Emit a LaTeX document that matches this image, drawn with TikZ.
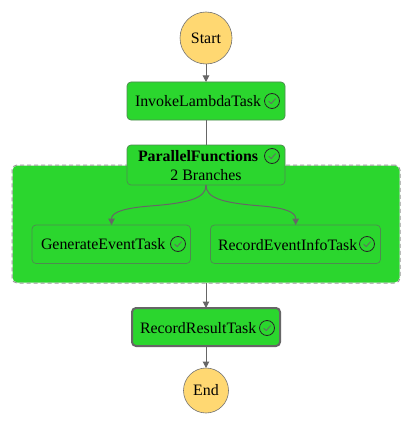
\documentclass[tikz,border=0pt]{standalone}
\usepackage{fontspec}
\setmainfont{Liberation Serif}
\usetikzlibrary{arrows.meta}
\definecolor{okgreen}{HTML}{2BD62E}
\definecolor{startfill}{HTML}{FFD872}
\definecolor{edgegray}{HTML}{666666}
\definecolor{boxedge}{HTML}{4E8A50}
\tikzset{
  x=1pt,y=-1pt,
  every node/.style={inner sep=0pt,outer sep=0pt,font=\fontsize{15.9}{18}\selectfont,text=black},
  terminal/.style={circle,draw=black!55,fill=startfill,line width=.6pt},
  task/.style={rectangle,rounded corners=4pt,draw=boxedge,fill=okgreen,line width=.7pt,anchor=north west},
  inner task/.style={task},
  final task/.style={task,draw=edgegray,line width=2pt},
  group box/.style={rectangle,rounded corners=5pt,draw=white,fill=okgreen,line width=1pt,anchor=north west,
    postaction={draw=black!40,dash pattern=on 4pt off 3pt,line width=1pt}},
  flow/.style={draw=edgegray,line width=1pt,-{Triangle[length=6.5pt,width=6.5pt]}},
  plain flow/.style={draw=edgegray,line width=1pt},
  okring/.style={circle,draw=black!85,line width=.8pt,minimum size=15pt},
  okmark/.style={draw=black!60,line width=.8pt}
}
\newcommand{\okicon}[3]{%
  \node[okring] (#3) at (#1,#2) {};
  \draw[okmark] (#1-3.4,#2+.2) -- (#1-.8,#2+2.6) -- (#1+3.6,#2-2.4);
}
\begin{document}
\begin{tikzpicture}
\useasboundingbox (0,0) rectangle (413,425);
\fill[white] (0,0) rectangle (413,425);
\node[group box,minimum width=388pt,minimum height=118pt] (grp) at (12,165) {};
\node[terminal,minimum size=52pt] (start) at (206,38) {Start};
\node[task,minimum width=158pt,minimum height=38pt] (invoke) at (127,82) {};
\node[task,minimum width=158pt,minimum height=40pt] (par) at (127,145) {};
\node[inner task,minimum width=158.5pt,minimum height=38.5pt] (gen) at (32,225) {};
\node[inner task,minimum width=170pt,minimum height=38.5pt] (rec) at (210.5,225) {};
\node[final task,minimum width=148pt,minimum height=38pt] (res) at (132,308) {};
\node[terminal,minimum size=45pt] (end) at (206,390.5) {End};
\node[anchor=west] (t1) at (135,101) {InvokeLambdaTask};
\node[anchor=west,font=\fontsize{15.9}{18}\selectfont\bfseries] (t2) at (138,156) {ParallelFunctions};
\node (t3) at (206,175) {2 Branches};
\node[anchor=west] (t4) at (41,244.5) {GenerateEventTask};
\node[anchor=west] (t5) at (218,244.5) {RecordEventInfoTask};
\node[anchor=west] (t6) at (140,328) {RecordResultTask};
\okicon{272}{101}{i1}
\okicon{272}{156}{i2}
\okicon{178}{244}{i3}
\okicon{367}{244}{i4}
\okicon{267}{328}{i5}
\draw[flow] (start) -- (invoke);
\draw[plain flow] (invoke) -- (par);
\draw[flow] (par.south) .. controls (206,198) and (190,203) .. (150,206) .. controls (125,208) and (111.5,212) .. (gen.north -| 111.5,225);
\draw[flow] (par.south) .. controls (206,198) and (222,203) .. (262,206) .. controls (285,208) and (295.7,212) .. (rec.north -| 295.7,225);
\draw[flow] (grp.south -| res.north) -- (res.north);
\draw[flow] (res) -- (end);
\end{tikzpicture}
\end{document}
